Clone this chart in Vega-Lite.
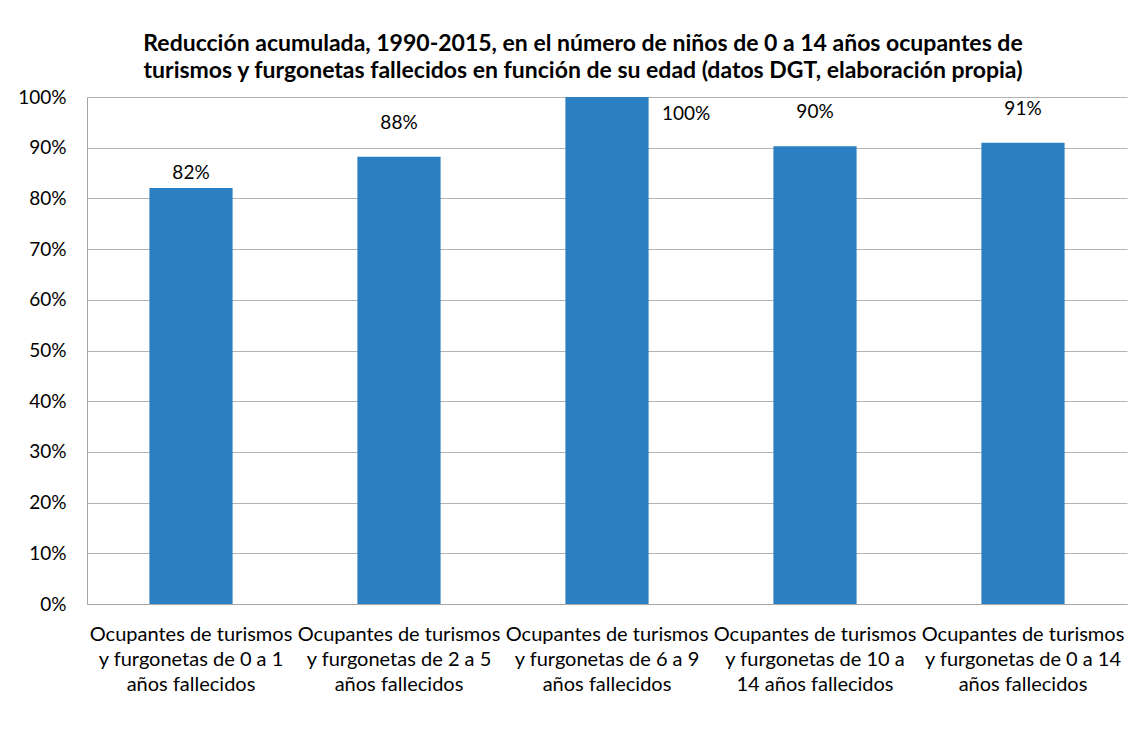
{
  "$schema": "https://vega.github.io/schema/vega-lite/v6.json",
  "width": 1040,
  "height": 507,
  "autosize": {"type": "none"},
  "padding": {"left": 87, "top": 97, "right": 19, "bottom": 148},
  "background": "white",
  "config": {
    "font": "Lato",
    "view": {"stroke": null}
  },
  "title": {
    "text": ["Reducción acumulada, 1990-2015, en el número de niños de 0 a 14 años ocupantes de", "turismos y furgonetas fallecidos en función de su edad (datos DGT, elaboración propia)"],
    "font": "Lato",
    "fontSize": 23,
    "fontWeight": "bold",
    "color": "#000000",
    "anchor": "middle",
    "frame": "group",
    "dx": -24,
    "lineHeight": 27,
    "offset": 5
  },
  "data": {
    "values": [
      {"grupo": "Ocupantes de turismos|y furgonetas de 0 a 1|años fallecidos", "reduccion": 0.8205},
      {"grupo": "Ocupantes de turismos|y furgonetas de 2 a 5|años fallecidos", "reduccion": 0.882},
      {"grupo": "Ocupantes de turismos|y furgonetas de 6 a 9|años fallecidos", "reduccion": 1.0},
      {"grupo": "Ocupantes de turismos|y furgonetas de 10 a|14 años fallecidos", "reduccion": 0.903},
      {"grupo": "Ocupantes de turismos|y furgonetas de 0 a 14|años fallecidos", "reduccion": 0.91}
    ]
  },
  "encoding": {
    "x": {
      "field": "grupo",
      "type": "nominal",
      "sort": null,
      "scale": {"paddingInner": 0.6, "paddingOuter": 0.3},
      "axis": {
        "title": null,
        "labelAngle": 0,
        "labelExpr": "split(datum.label, '|')",
        "labelFontSize": 20,
        "labelColor": "#000000",
        "labelLineHeight": 25,
        "labelPadding": 20,
        "labelBaseline": "top",
        "labelLimit": 400,
        "ticks": false,
        "domainColor": "#A6A6A6",
        "domainWidth": 1
      }
    },
    "y": {
      "field": "reduccion",
      "type": "quantitative",
      "scale": {"domain": [0, 1], "nice": false},
      "axis": {
        "title": null,
        "format": ".0%",
        "values": [0, 0.1, 0.2, 0.3, 0.4, 0.5, 0.6, 0.7, 0.8, 0.9, 1.0],
        "labelFontSize": 19,
        "labelColor": "#000000",
        "labelPadding": 21,
        "ticks": false,
        "gridColor": "#B3B3B3",
        "gridWidth": 1,
        "domainColor": "#A6A6A6",
        "domainWidth": 1
      }
    }
  },
  "layer": [
    {"mark": {"type": "bar", "color": "#2A80C2"}},
    {
      "transform": [{"filter": "datum.reduccion < 0.85"}],
      "mark": {"type": "text", "dy": -5, "baseline": "bottom", "fontSize": 19, "color": "#000000"},
      "encoding": {"text": {"field": "reduccion", "type": "quantitative", "format": ".0%"}}
    },
    {
      "transform": [{"filter": "datum.reduccion >= 0.85 && datum.reduccion < 0.995"}],
      "mark": {"type": "text", "dy": -24, "baseline": "bottom", "fontSize": 19, "color": "#000000"},
      "encoding": {"text": {"field": "reduccion", "type": "quantitative", "format": ".0%"}}
    },
    {
      "transform": [{"filter": "datum.reduccion >= 0.995"}],
      "mark": {"type": "text", "dx": 55, "dy": 17, "align": "left", "baseline": "middle", "fontSize": 19, "color": "#000000"},
      "encoding": {"text": {"field": "reduccion", "type": "quantitative", "format": ".0%"}}
    }
  ]
}
